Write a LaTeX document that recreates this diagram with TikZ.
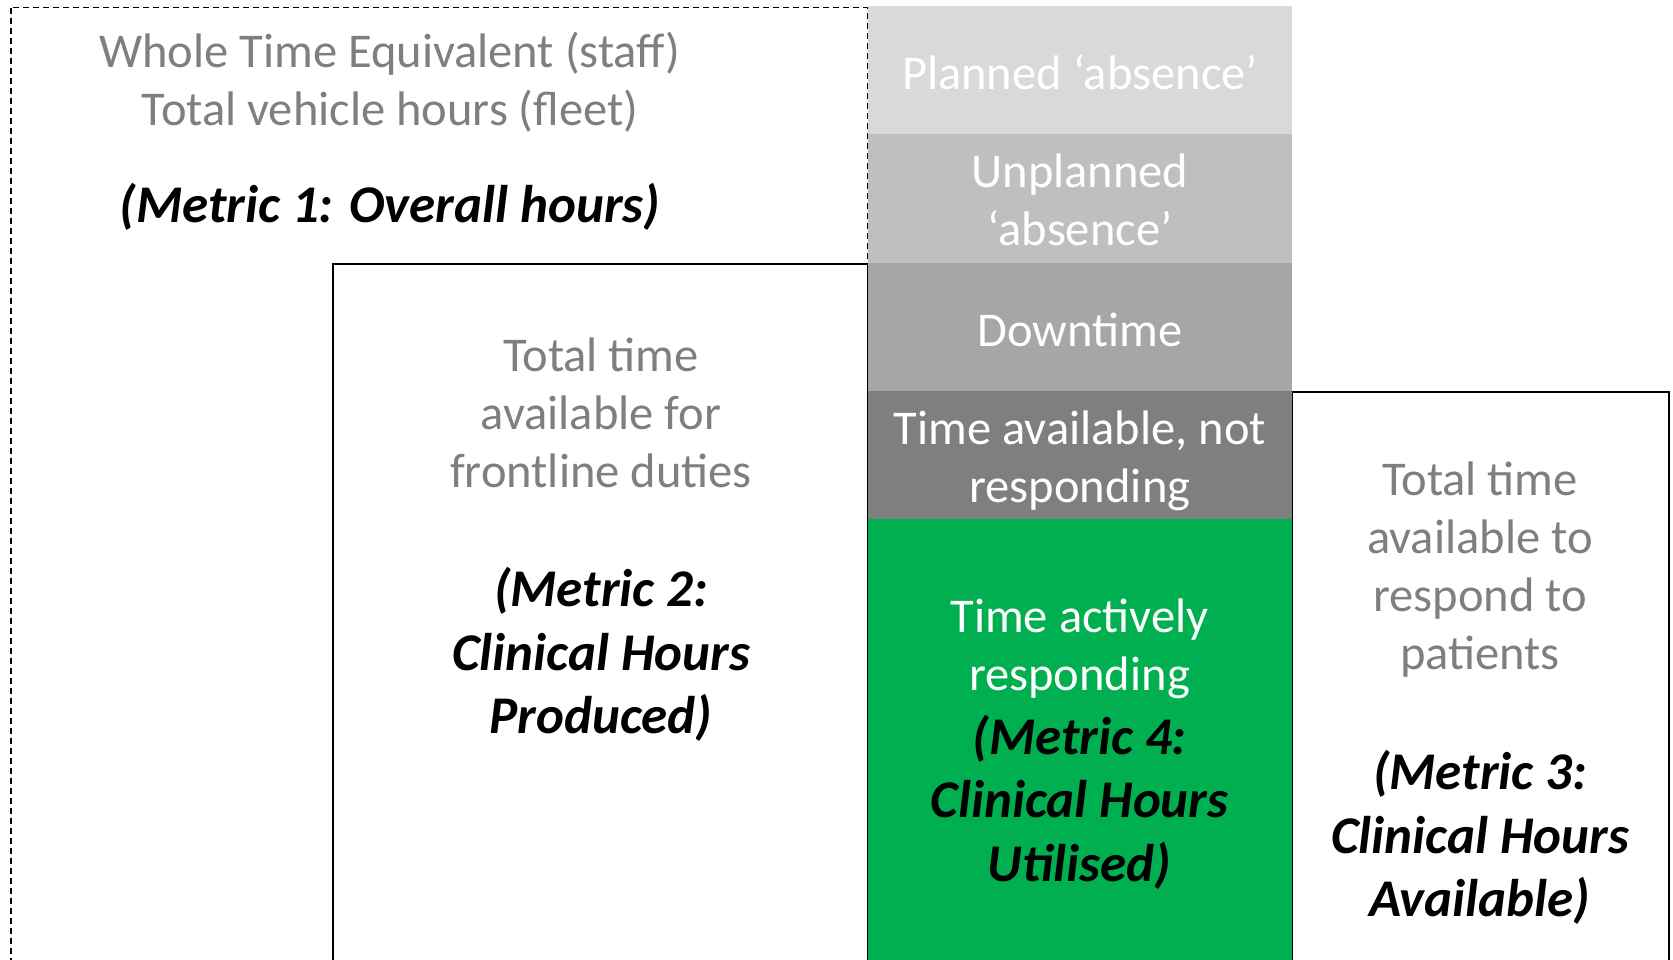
\documentclass[tikz,border=0pt]{standalone}
\usepackage{fontspec}
\setmainfont{Carlito}
\definecolor{planned}{HTML}{D9D9D9}
\definecolor{unplanned}{HTML}{BFBFBF}
\definecolor{downtime}{HTML}{A6A6A6}
\definecolor{notresp}{HTML}{7F7F7F}
\definecolor{active}{HTML}{00B050}
\definecolor{graytext}{HTML}{7F7F7F}
\begin{document}
\begin{tikzpicture}[x=1pt,y=-1pt,
  bar/.style={draw=none, minimum width=424.5pt, minimum height=128.2pt, inner sep=0pt},
  btext/.style={text=white, align=center, inner sep=0pt, font=\fontsize{48.5}{58}\selectfont},
  gtext/.style={text=graytext, align=center, inner sep=0pt, font=\fontsize{48.5}{58}\selectfont},
  mtext/.style={text=black, align=center, inner sep=0pt, font=\fontsize{53}{63.5}\selectfont\bfseries\itshape},
  outer/.style={draw=black, line width=1.6pt, dash pattern=on 6pt off 4pt},
  inner/.style={draw=black, line width=2pt}]
\useasboundingbox (0,0) rectangle (1673,959);
\clip (0,0) rectangle (1673,959);
% boxes
\draw[outer] (10.7,7.5) rectangle (867.5,1100);
\draw[inner] (333,263.5) rectangle (867.5,1100);
\draw[inner] (1292,391.5) rectangle (1669,1100);
% column
\node[bar, fill=planned, anchor=north west] (pl) at (867.5,6) {};
\node[bar, fill=unplanned, anchor=north west] (un) at (867.5,134.2) {};
\node[bar, fill=downtime, anchor=north west] (dt) at (867.5,262.4) {};
\node[bar, fill=notresp, anchor=north west] (nr) at (867.5,390.6) {};
\node[bar, fill=active, minimum height=480pt, anchor=north west] (ac) at (867.5,518.8) {};
\node[btext] (plt) at ([yshift=-2pt]pl.center) {Planned ‘absence’};
\node[btext] (unt) at ([yshift=-1pt]un.center) {Unplanned\\‘absence’};
\node[btext] (dtt) at ([yshift=-3pt]dt.center) {Downtime};
\node[btext] (nrt) at ([yshift=-6pt]nr.center) {Time available, not\\responding};
% texts
\node[gtext] (wte) at (390,82) {Whole Time Equivalent (staff)\\Total vehicle hours (fleet)};
\node[mtext] (m1) at (390,207) {(Metric 1: Overall hours)};
\node[gtext] (t2) at (601,413) {Total time\\available for\\frontline duties};
\node[mtext] (m2) at (601,654.5) {(Metric 2:\\Clinical Hours\\Produced)};
\node[btext] (t4) at (1079.5,649) {Time actively\\responding};
\node[mtext] (m4) at (1079.5,802) {(Metric 4:\\Clinical Hours\\Utilised)};
\node[gtext] (t3) at (1480,570) {Total time\\available to\\respond to\\patients};
\node[mtext] (m3) at (1480,837.5) {(Metric 3:\\Clinical Hours\\Available)};
\end{tikzpicture}
\end{document}
